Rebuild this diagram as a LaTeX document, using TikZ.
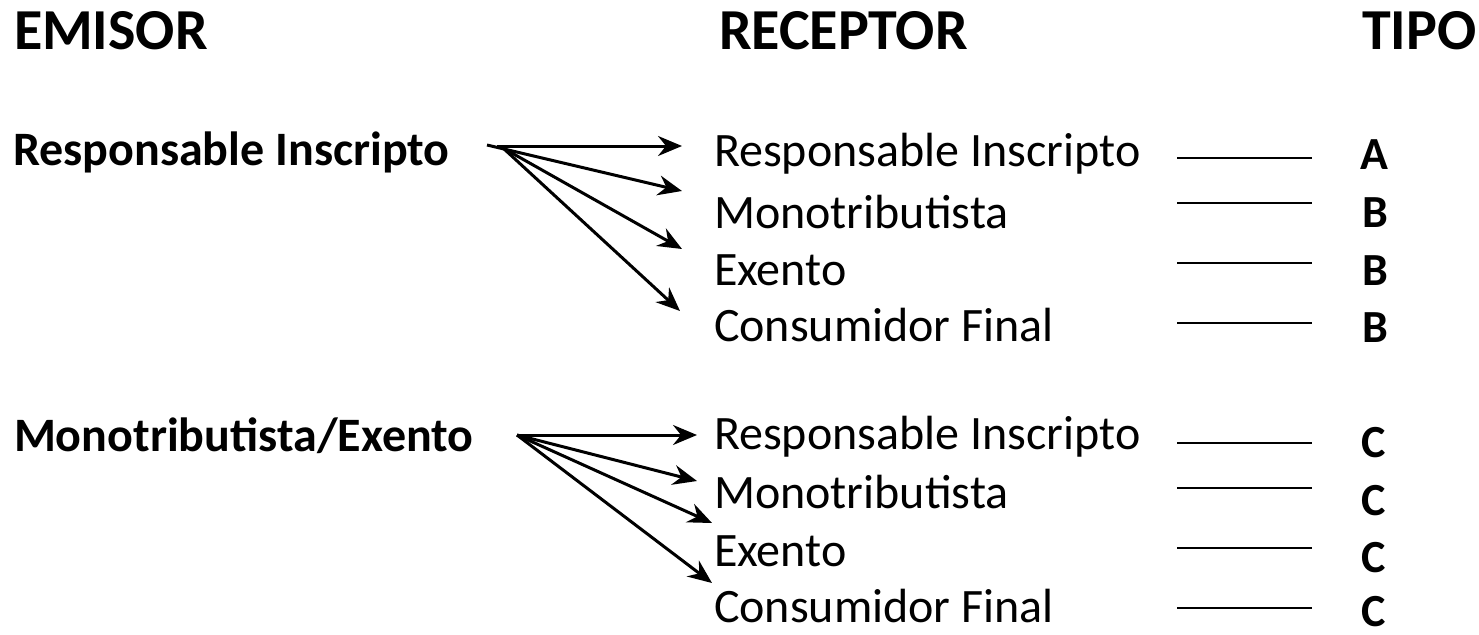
\documentclass[tikz,border=0pt]{standalone}
\usepackage{fontspec}
\setmainfont{Carlito}
\usetikzlibrary{arrows.meta}
\begin{document}
\begin{tikzpicture}[x=1pt,y=-1pt,
  every node/.style={inner sep=0pt, outer sep=0pt, anchor=base west},
  header/.style={font=\fontsize{58}{64}\selectfont\bfseries},
  emisor/.style={font=\fontsize{48}{56}\selectfont\bfseries},
  receptor/.style={font=\fontsize{48}{56}\selectfont},
  tipo/.style={font=\fontsize{46}{54}\selectfont\bfseries},
  arr/.style={line width=3pt, -{Stealth[length=24pt,width=20pt,inset=8pt]}},
  rule/.style={line width=2pt}]
\useasboundingbox (0,0) rectangle (1479,634);
% headers
\node[header] (hE) at (14,49) {EMISOR};
\node[header] (hR) at (719,49) {RECEPTOR};
\node[header] (hT) at (1362,49) {TIPO};
% emisores
\node[emisor] (e1) at (13,165) {Responsable Inscripto};
\node[emisor] (e2) at (14,451) {Monotributista/Exento};
% receptores group 1
\node[receptor] (r11) at (714,166) {Responsable Inscripto};
\node[receptor] (r12) at (714,228) {Monotributista};
\node[receptor] (r13) at (714,285) {Exento};
\node[receptor] (r14) at (714,341) {Consumidor Final};
% receptores group 2
\node[receptor] (r21) at (714,449) {Responsable Inscripto};
\node[receptor] (r22) at (714,508) {Monotributista};
\node[receptor] (r23) at (714,566) {Exento};
\node[receptor] (r24) at (714,622) {Consumidor Final};
% tipos
\node[tipo] (t11) at (1360,169) {A};
\node[tipo] (t12) at (1362,227) {B};
\node[tipo] (t13) at (1362,285) {B};
\node[tipo] (t14) at (1362,342) {B};
\node[tipo] (t21) at (1361,457) {C};
\node[tipo] (t22) at (1361,515) {C};
\node[tipo] (t23) at (1361,572) {C};
\node[tipo] (t24) at (1361,626) {C};
% arrow coordinates group 1
\coordinate (o1a) at (497,146);
\coordinate (o1b) at (487,145);
\coordinate (o1) at (503,148);
\coordinate (p11) at (682,146);
\coordinate (p12) at (682,191);
\coordinate (p13) at (682,249);
\coordinate (p14) at (680,311);
\draw[arr] (o1a) -- (p11);
\draw[arr] (o1b) -- (p12);
\draw[arr] (o1) -- (p13);
\draw[arr] (o1) -- (p14);
% arrow coordinates group 2
\coordinate (o2) at (517,435);
\coordinate (p21) at (697,435);
\coordinate (p22) at (697,481);
\coordinate (p23) at (712,523);
\coordinate (p24) at (712,583);
\draw[arr] (o2) -- (p21);
\draw[arr] (o2) -- (p22);
\draw[arr] (o2) -- (p23);
\draw[arr] (o2) -- (p24);
% rules
\foreach \y/\n in {158/11,203/12,263/13,323/14,443/21,488/22,548/23,608/24}{
  \coordinate (la\n) at (1177,\y);
  \coordinate (lb\n) at (1312,\y);
  \draw[rule] (la\n) -- (lb\n);
}
\end{tikzpicture}
\end{document}
